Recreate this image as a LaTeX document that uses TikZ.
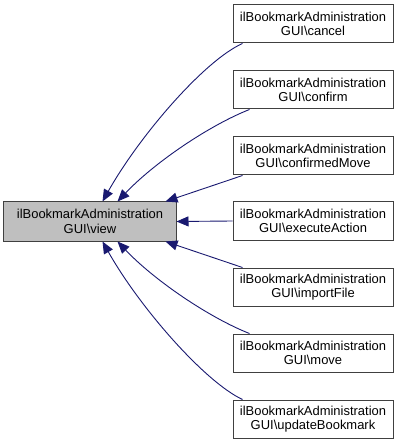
\documentclass[tikz,border=0pt]{standalone}
\usepackage{fontspec}
\setmainfont{Liberation Sans}
\usetikzlibrary{arrows.meta}
\definecolor{edgeblue}{HTML}{191970}
\definecolor{boxgray}{HTML}{BFBFBF}
\definecolor{boxline}{HTML}{404040}
\tikzset{
  fn/.style={draw=boxline, line width=1bp, fill=white, minimum width=160bp, minimum height=38bp,
    inner sep=0pt, align=center, font=\fontsize{13}{14.5}\selectfont},
  mainfn/.style={fn, fill=boxgray, minimum width=172bp, minimum height=39bp},
  edge/.style={draw=edgeblue, line width=0.9bp, -{Triangle[length=12bp,width=10bp]}, fill=none},
}
\begin{document}
\begin{tikzpicture}[x=1bp, y=-1bp]
\useasboundingbox (0,0) rectangle (400,444);
\node[mainfn] (view) at (90,221.5) {ilBookmarkAdministration\\GUI\textbackslash view};
\node[fn] (cancel) at (313,24) {ilBookmarkAdministration\\GUI\textbackslash cancel};
\node[fn] (confirm) at (313,90) {ilBookmarkAdministration\\GUI\textbackslash confirm};
\node[fn] (cmove) at (313,156) {ilBookmarkAdministration\\GUI\textbackslash confirmedMove};
\node[fn] (exec) at (313,221) {ilBookmarkAdministration\\GUI\textbackslash executeAction};
\node[fn] (import) at (313,287) {ilBookmarkAdministration\\GUI\textbackslash importFile};
\node[fn] (move) at (313,353) {ilBookmarkAdministration\\GUI\textbackslash move};
\node[fn] (update) at (313,419) {ilBookmarkAdministration\\GUI\textbackslash updateBookmark};

\draw[edge] ([xshift=10bp]cancel.south west) .. controls (205,60) and (140,135) .. ([xshift=99bp]view.north west);
\draw[edge] ([xshift=17bp]confirm.south west) .. controls (210,125) and (155,162) .. ([xshift=114bp]view.north west);
\draw[edge] ([xshift=10bp]cmove.south west) -- ([xshift=-11bp]view.north east);
\draw[edge] (exec.west) -- (view.east);
\draw[edge] ([xshift=10bp]import.north west) -- ([xshift=-11bp]view.south east);
\draw[edge] ([xshift=17bp]move.north west) .. controls (210,318) and (155,281) .. ([xshift=114bp]view.south west);
\draw[edge] ([xshift=10bp]update.north west) .. controls (205,382) and (140,308) .. ([xshift=99bp]view.south west);
\end{tikzpicture}
\end{document}
